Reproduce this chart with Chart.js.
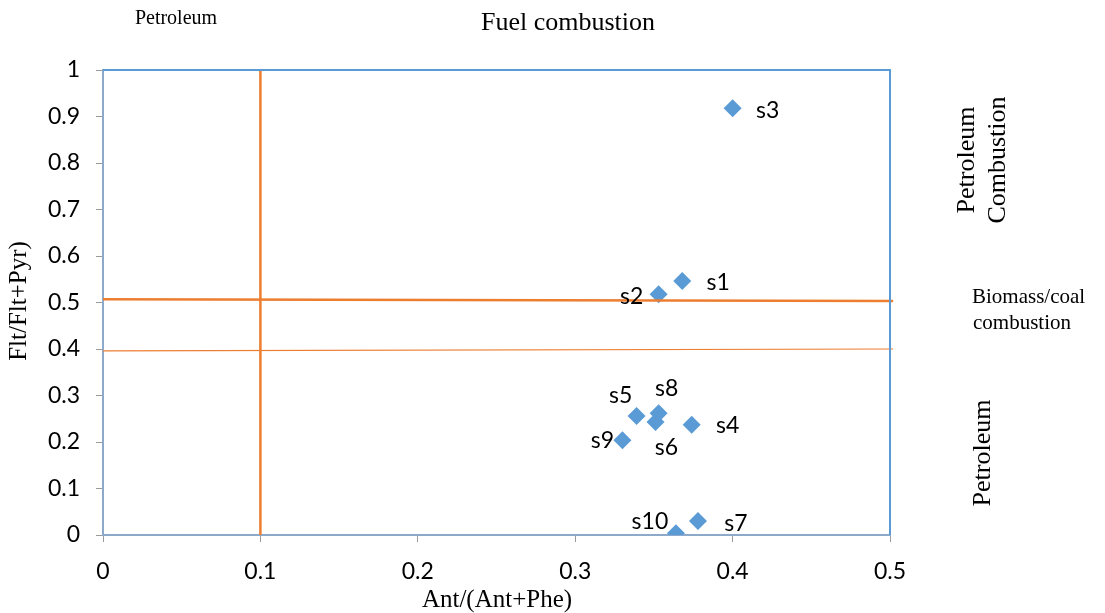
<!DOCTYPE html>
<html>
<head>
<meta charset="utf-8">
<script src="https://cdn.jsdelivr.net/npm/chart.js@4.4.1/dist/chart.umd.min.js"></script>
<style>
  html, body { margin: 0; padding: 0; background: #fff; }
  #wrap { width: 1105px; height: 613px; position: relative; }
</style>
</head>
<body>
<div id="wrap"><canvas id="ratioChart" width="1105" height="613"></canvas></div>
<script>
// sample names and ratios
const sampleNames = ["s1", "s2", "s3", "s4", "s5", "s6", "s7", "s8", "s9", "s10"];
const antRatio = [0.368, 0.353, 0.400, 0.374, 0.339, 0.351, 0.378, 0.353, 0.330, 0.364];
const fltRatio = [0.546, 0.518, 0.918, 0.237, 0.256, 0.243, 0.030, 0.262, 0.204, 0.004];

// source boundary lines
const antLimitX = [0.1, 0.1];
const antLimitY = [0, 1];
const upperLimitX = [0, 0.502];
const upperLimitY = [0.507, 0.503];
const lowerLimitX = [0, 0.502];
const lowerLimitY = [0.396, 0.400];

const xTicks = [0, 0.1, 0.2, 0.3, 0.4, 0.5];
const yTicks = [0, 0.1, 0.2, 0.3, 0.4, 0.5, 0.6, 0.7, 0.8, 0.9, 1];

// where each sample label sits relative to its marker (px)
const labelOffset = {
  s1: [36, 1], s2: [-27, 2], s3: [35, 2], s4: [36, 1], s5: [-16, -20],
  s6: [11, 26], s7: [38, 3], s8: [8, -25], s9: [-20, 0], s10: [-26, -12]
};

const blue = "#5b9bd5";
const orange = "#ed7d31";
const serif = "'Liberation Serif', 'DejaVu Serif', serif";
const sans = "Lato, 'Open Sans', sans-serif";

function toPoints(xs, ys) {
  return xs.map((x, i) => ({ x: x, y: ys[i] }));
}

function rotatedText(c, text, x, y, size) {
  c.save();
  c.translate(x, y);
  c.rotate(-Math.PI / 2);
  c.font = size + "px " + serif;
  c.fillText(text, 0, 0);
  c.restore();
}

const extras = {
  id: "extras",
  afterDatasetsDraw(chart) {
    const c = chart.ctx;
    const a = chart.chartArea;
    c.save();
    // top and right frame
    c.strokeStyle = blue;
    c.lineWidth = 2;
    c.beginPath();
    c.moveTo(a.left, a.top);
    c.lineTo(a.right, a.top);
    c.lineTo(a.right, a.bottom);
    c.stroke();

    // sample labels
    const meta = chart.getDatasetMeta(3);
    c.fillStyle = "#000";
    c.font = "23px " + sans;
    c.textAlign = "center";
    c.textBaseline = "middle";
    meta.data.forEach((pt, i) => {
      const off = labelOffset[sampleNames[i]];
      c.fillText(sampleNames[i], pt.x + off[0], pt.y + off[1]);
    });

    // annotations
    c.font = "20px " + serif;
    c.fillText("Petroleum", 176, 19);
    c.font = "26px " + serif;
    c.fillText("Fuel combustion", 568, 23);

    c.font = "21px " + serif;
    c.textAlign = "left";
    c.fillText("Biomass/coal", 972, 297);
    c.fillText("combustion", 973, 323);

    c.textAlign = "center";
    rotatedText(c, "Petroleum", 967, 160, 26);
    rotatedText(c, "Combustion", 998, 160, 26);
    rotatedText(c, "Petroleum", 983, 453, 26);

    // axis titles
    c.font = "25px " + serif;
    c.fillText("Ant/(Ant+Phe)", 497, 600);
    rotatedText(c, "Flt/Flt+Pyr)", 19, 301, 25);
    c.restore();
  }
};

new Chart(document.getElementById("ratioChart"), {
  type: "scatter",
  data: {
    datasets: [
      {
        type: "line",
        data: toPoints(antLimitX, antLimitY),
        borderColor: orange,
        borderWidth: 2.5,
        pointRadius: 0,
        clip: false
      },
      {
        type: "line",
        data: toPoints(upperLimitX, upperLimitY),
        borderColor: orange,
        borderWidth: 2.5,
        pointRadius: 0,
        clip: false
      },
      {
        type: "line",
        data: toPoints(lowerLimitX, lowerLimitY),
        borderColor: orange,
        borderWidth: 1.2,
        pointRadius: 0,
        clip: false
      },
      {
        label: "samples",
        data: toPoints(antRatio, fltRatio),
        pointStyle: "rectRot",
        pointRadius: 9,
        backgroundColor: blue,
        borderColor: blue,
        borderWidth: 0
      }
    ]
  },
  options: {
    responsive: false,
    animation: false,
    layout: { padding: { top: 70, right: 215, left: 0, bottom: 0 } },
    plugins: { legend: { display: false }, tooltip: { enabled: false } },
    scales: {
      x: {
        type: "linear",
        min: 0,
        max: 0.5,
        afterFit(s) { s.height = 78; },
        afterBuildTicks(s) { s.ticks = xTicks.map(v => ({ value: v })); },
        border: { color: "#8eaacb", width: 2 },
        grid: { drawOnChartArea: false, drawTicks: true, tickLength: 7, color: "#9a9a9a" },
        ticks: {
          color: "#000",
          font: { family: "Lato, 'Open Sans', sans-serif", size: 23 },
          padding: 16,
          callback: v => String(Number(v.toFixed(1)))
        }
      },
      y: {
        type: "linear",
        min: 0,
        max: 1,
        afterFit(s) { s.width = 103; },
        afterBuildTicks(s) { s.ticks = yTicks.map(v => ({ value: v })); },
        border: { color: "#8eaacb", width: 2 },
        grid: { drawOnChartArea: false, drawTicks: true, tickLength: 7, color: "#9a9a9a" },
        ticks: {
          color: "#000",
          font: { family: "Lato, 'Open Sans', sans-serif", size: 23 },
          padding: 16,
          callback: v => String(Number(v.toFixed(1)))
        }
      }
    }
  },
  plugins: [extras]
});
</script>
</body>
</html>
